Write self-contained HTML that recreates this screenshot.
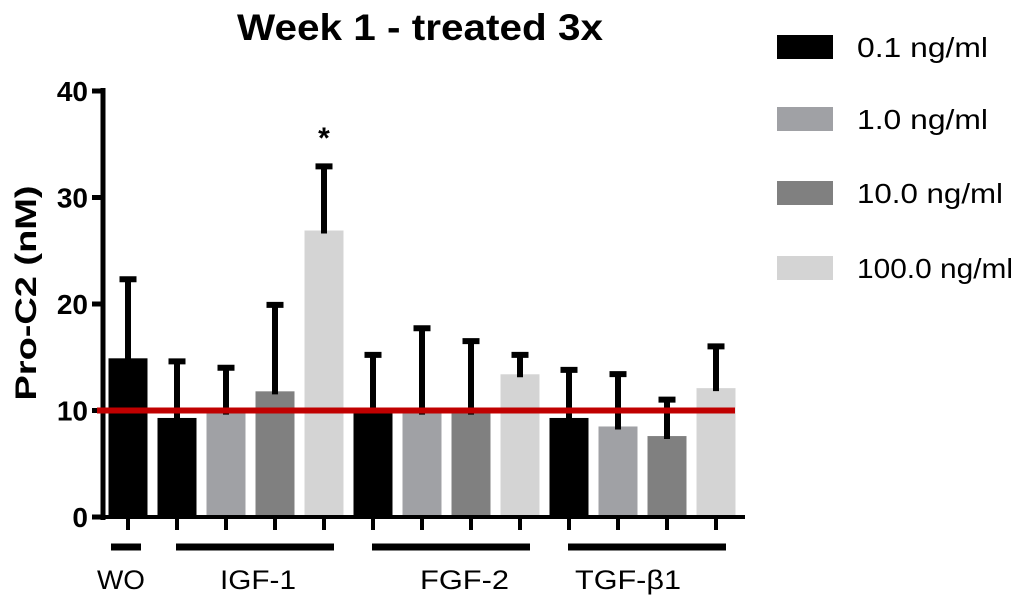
<!DOCTYPE html>
<html><head><meta charset="utf-8"><style>
body{margin:0;background:#fff}
svg{display:block;font-family:"Liberation Sans",sans-serif}
</style></head><body>
<svg id="chart" width="1024" height="606">
<text x="420" y="40" text-anchor="middle" font-size="37" font-weight="bold" textLength="366" lengthAdjust="spacingAndGlyphs">Week 1 - treated 3x</text>
<text transform="translate(36,293) rotate(-90)" text-anchor="middle" font-size="30" font-weight="bold" textLength="215" lengthAdjust="spacingAndGlyphs">Pro-C2 (nM)</text>
<g id="plot"></g>
</svg>
<script>
const categories=["WO","IGF 0.1","IGF 1.0","IGF 10","IGF 100","FGF 0.1","FGF 1.0","FGF 10","FGF 100","TGF 0.1","TGF 1.0","TGF 10","TGF 100"];
const means=[14.9,9.3,9.9,11.8,26.9,9.9,9.9,9.9,13.4,9.3,8.5,7.6,12.1];
const errors=[7.7,5.6,4.4,8.4,6.3,5.6,8.1,6.9,2.1,4.8,5.2,3.7,4.2];
const concIdx=[0,0,1,2,3,0,1,2,3,0,1,2,3];
const yTicks=[0,10,20,30,40];
const legendLabels=["0.1 ng/ml","1.0 ng/ml","10.0 ng/ml","100.0 ng/ml"];
const groupLabels=["WO","IGF-1","FGF-2","TGF-\u03b21"];
const refValue=10;
const colors=["#000000","#a0a1a5","#808080","#d4d4d4"];
const NS="http://www.w3.org/2000/svg";
const g=document.getElementById('plot');
const svg=document.getElementById('chart');
const y=v=>517-v*10.65;
const x=i=>128+i*49;
function mk(t,a,p){const e=document.createElementNS(NS,t);for(const k in a)e.setAttribute(k,a[k]);(p||g).appendChild(e);return e;}
categories.forEach((c,i)=>{
 const b=mk('rect',{x:x(i)-19.5,y:y(means[i]),width:39,height:517-y(means[i]),fill:colors[concIdx[i]]});
 
 
 const top=y(means[i]+errors[i]);
 const e=mk('path',{d:`M${x(i)} ${y(means[i])+3}V${top}M${x(i)-8.5} ${top+3}H${x(i)+8.5}`,stroke:'#000','stroke-width':6,fill:'none'});
 
 
 const tk=mk('line',{x1:x(i),x2:x(i),y1:517,y2:530,stroke:'#000','stroke-width':4});
 
 
});
const st=mk('text',{x:x(4),y:148,'text-anchor':'middle','font-size':30,'font-weight':'bold'});
st.textContent='*';


const ya=mk('line',{x1:103,x2:103,y1:88,y2:520,stroke:'#000','stroke-width':5});


const xa=mk('line',{x1:101,x2:745,y1:517,y2:517,stroke:'#000','stroke-width':4});


yTicks.forEach(t=>{
 const l=mk('line',{x1:92,x2:103,y1:y(t),y2:y(t),stroke:'#000','stroke-width':5});
 
 
 const tx=mk('text',{x:88,y:y(t)+10,'text-anchor':'end','font-size':28,'font-weight':'bold'});
 tx.textContent=t;
 
 
});
const rl=mk('line',{x1:97,x2:735,y1:y(refValue),y2:y(refValue),stroke:'#c00000','stroke-width':6});


const groups=[[0,0],[1,4],[5,8],[9,12]];
const lblX=[97,220,420,575];
const lblW=[48,76,89,106];
groups.forEach((gr,k)=>{
 const x1=k==0?111:x(gr[0])-1, x2=k==0?141:x(gr[1])+10;
 const l=mk('line',{x1:x1,x2:x2,y1:547,y2:547,stroke:'#000','stroke-width':7});
 
 
 const t=mk('text',{x:lblX[k],y:589,'font-size':27,textLength:lblW[k],lengthAdjust:'spacingAndGlyphs'});
 t.textContent=groupLabels[k];
 
 
});
const legW=[131,131,146,156];
legendLabels.forEach((l,k)=>{
 const cy=[47,119,193,268][k];
 const r=mk('rect',{x:777,y:cy-12,width:56,height:24,fill:colors[k]},svg);
 
 
 const t=mk('text',{x:857,y:cy+10,'font-size':28,textLength:legW[k],lengthAdjust:'spacingAndGlyphs'},svg);
 t.textContent=l;
 
 
});
</script>
</body></html>
